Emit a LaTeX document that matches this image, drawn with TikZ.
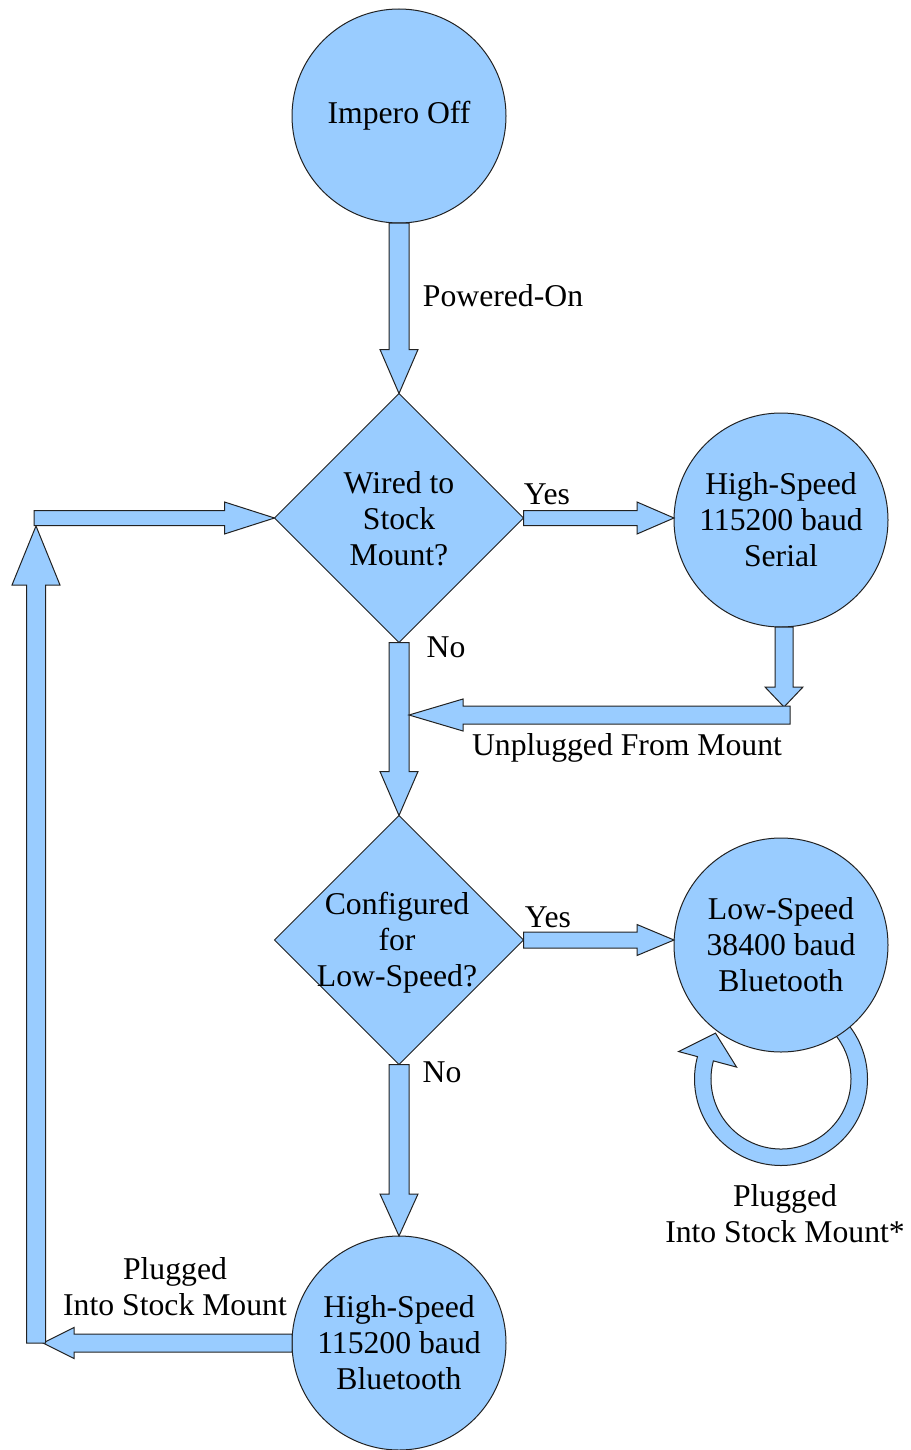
\documentclass[tikz,border=0pt]{standalone}
\usepackage{fontspec}
\setmainfont{Liberation Serif}
\usetikzlibrary{calc,shapes.geometric}
\definecolor{fillblue}{HTML}{99CCFF}
\definecolor{edgecol}{HTML}{222222}
\tikzset{
  ba/.style={fill=fillblue, draw=edgecol, line width=0.5pt, line join=miter},
  state/.style={circle, fill=fillblue, draw=edgecol, line width=0.5pt, minimum size=107pt,
    inner sep=0pt, outer sep=0pt, align=center, font=\fontsize{15.85pt}{18pt}\selectfont},
  decision/.style={diamond, aspect=1, fill=fillblue, draw=edgecol, line width=0.5pt,
    minimum width=124.5pt, minimum height=124.5pt, inner sep=0pt, outer sep=0pt},
  txt/.style={font=\fontsize{15.85pt}{18pt}\selectfont, align=center, inner sep=0pt},
}
% block arrow: start, end, shaft half width, head half width, head length (px)
\newcommand\barrow[5]{%
  \draw[ba] let \p1=(#1), \p2=(#2), \n1={atan2(\y2-\y1,\x2-\x1)},
      \n2={veclen(\x2-\x1,\y2-\y1)} in
    ($(\p1)+(\n1+90:{#3*0.5pt})$)
    -- ($(\p1)+(\n1:{(\n2-#5*0.5)*1pt})+(\n1+90:{#3*0.5pt})$)
    -- ($(\p1)+(\n1:{(\n2-#5*0.5)*1pt})+(\n1+90:{#4*0.5pt})$)
    -- (\p2)
    -- ($(\p1)+(\n1:{(\n2-#5*0.5)*1pt})+(\n1-90:{#4*0.5pt})$)
    -- ($(\p1)+(\n1:{(\n2-#5*0.5)*1pt})+(\n1-90:{#3*0.5pt})$)
    -- ($(\p1)+(\n1-90:{#3*0.5pt})$) -- cycle;}
\begin{document}
\begin{tikzpicture}[x=0.5pt,y=0.5pt]
\useasboundingbox (0,0) rectangle (910,-1450);

% self-loop ring arrow (drawn below the circle)
\coordinate (rc) at (781,-1079);
\draw[ba] ($(rc)+(45:86.5)$) arc[start angle=45, end angle=-195, radius=86.5]
  -- ($(rc)+(165:106)$) -- ($(rc)+(145:80)$) -- ($(rc)+(165:46)$)
  -- ($(rc)+(165:70)$) arc[start angle=165, end angle=405, radius=70] -- cycle;

% shapes
\node[state] (off) at (399,-116) {Impero Off};
\node[decision] (d1) at (399,-518) {};
\node[txt] (d1t) at (399,-519) {Wired to\\Stock\\Mount?};
\node[state] (serial) at (781,-520) {High-Speed\\115200 baud\\Serial};
\node[decision] (d2) at (399,-940) {};
\node[txt] (d2t) at (397,-943) {Configured\\for\\Low-Speed?};
\node[state] (low) at (781,-945) {Low-Speed\\38400 baud\\Bluetooth};
\node[state] (bt) at (399,-1343) {High-Speed\\115200 baud\\Bluetooth};

% free connector ends
\coordinate (ustart) at (790,-715);
\coordinate (uend) at (409,-715);
\coordinate (utop) at (784,-707);
\coordinate (lbot) at (36,-1343);
\coordinate (ltop) at (36,-526);
\coordinate (lcorner) at (34,-518);
\coordinate (bend) at (43,-1343);

% connectors
\barrow{off.south}{d1.north}{10}{19}{44}
\barrow{d1.south}{d2.north}{10}{19}{44}
\barrow{d2.south}{bt.north}{10}{19}{42}
\barrow{d1.east}{d1.east -| serial.west}{7.5}{16}{37}
\barrow{d2.east}{d2.east -| low.west}{8}{15.5}{37}
\barrow{$(serial.south)+(3,0)$}{utop}{9}{19}{20}
\barrow{ustart}{uend}{9}{16}{54}
\barrow{bt.west}{bend}{9}{15.5}{31}
\barrow{lbot}{ltop}{9.5}{24}{59}
\barrow{lcorner |- d1.west}{d1.west}{7.5}{16}{50}

% labels
\node[txt] (lpow) at (503,-296) {Powered-On};
\node[txt] (lyes1) at (547,-494) {Yes};
\node[txt] (lno1) at (446,-647) {No};
\node[txt] (lunp) at (627,-748) {Unplugged From Mount};
\node[txt] (lyes2) at (548,-917) {Yes};
\node[txt] (lno2) at (442,-1072) {No};
\node[txt] (lplug1) at (785,-1214) {Plugged\\Into Stock Mount*};
\node[txt] (lplug2) at (175,-1287) {Plugged\\Into Stock Mount};
\end{tikzpicture}
\end{document}
